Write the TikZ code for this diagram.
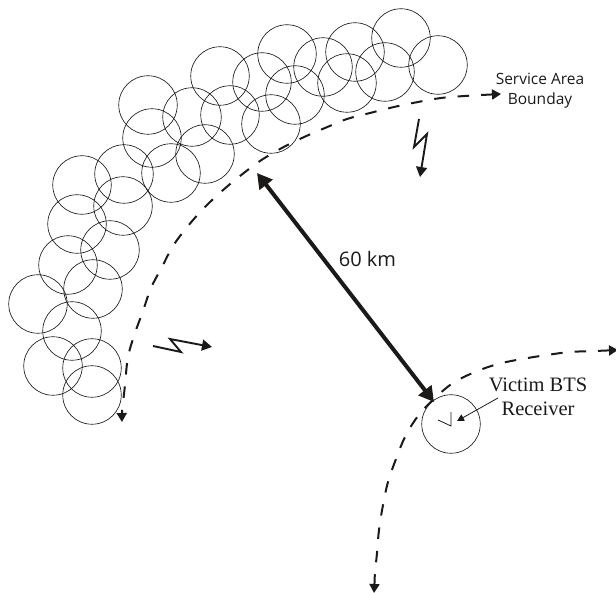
\documentclass[tikz,border=0pt]{standalone}
\usepackage{fontspec}
\setmainfont{Liberation Serif}
\newfontfamily\labelsans{Open Sans}
\usetikzlibrary{arrows.meta}
\definecolor{ink}{HTML}{1C1A18}
\tikzset{
  cell/.style={circle,draw=ink,line width=0.65pt,minimum size=58.5pt,inner sep=0pt},
  boundary/.style={draw=ink,line width=2pt,dash pattern=on 11.5pt off 12pt,{Triangle[length=9pt,width=10pt]}-{Triangle[length=9pt,width=10pt]}},
  bolt/.style={draw=ink,line width=1.9pt,miter limit=10,-{Triangle[length=10pt,width=11pt]}},
  spanline/.style={draw=ink,line width=4pt,{Triangle[length=15pt,width=16pt]}-{Triangle[length=15pt,width=16pt]}},
  pointer/.style={draw=ink,line width=0.8pt,-{Triangle[length=7pt,width=7pt]}},
  antenna/.style={draw=ink,line width=0.8pt},
  sanslabel/.style={font=\labelsans\fontsize{15.5}{20}\selectfont,text=ink,align=center,inner sep=0pt},
  seriflabel/.style={font=\fontsize{20.5}{24}\selectfont,text=ink,align=center,inner sep=0pt}
}
\begin{document}
\begin{tikzpicture}[x=1pt,y=-1pt]
\useasboundingbox (0,0) rectangle (616,593);
\foreach \i/\p in {1/{148,105},2/{220,76},3/{287,54},4/{262,82},5/{192,117},6/{230,115},7/{295,95},8/{271,124},9/{152,138},10/{205,154},11/{171,173},12/{124,174},13/{82,185},14/{123,206},15/{77,224},16/{110,250},17/{68,265},18/{93,289},19/{38,304},20/{72,331},21/{53,366},22/{92,368},23/{92,395},24/{323,67},25/{355,52},26/{401,38},27/{385,72},28/{438,65},29/{347,83}}
  \node[cell] (c\i) at (\p) {};
\node[cell] (victim) at (451,424) {};
\draw[boundary] plot[smooth,tension=0.6] coordinates {(501,94) (465,96) (441,98) (418,102) (394,107) (370,113) (347,119) (325,128) (302,138) (280,149) (260,161) (240,176) (222,191) (204,208) (188,226) (173,246) (162,267) (151,288) (143,311) (135,333) (128,357) (125,385) (123,403) (122,412) (122,422)};
\draw[boundary] plot[smooth,tension=0.6] coordinates {(618,350) (595,351) (570,352) (547,355) (522,359) (498,364) (475,372) (453,383) (435,398) (418,416) (405,437) (396,459) (388,482) (383,505) (379,530) (377,553) (375,573) (374.5,583) (374,593)};
\coordinate (farend) at (257,173);
\coordinate (nearend) at (434,402);
\draw[spanline] (farend) -- (nearend);
\node[sanslabel,font=\labelsans\fontsize{20}{24}\selectfont] (dist) at (367.5,259) {60 km};
\coordinate (b1a) at (419,119); \coordinate (b1b) at (414,147); \coordinate (b1c) at (427,134); \coordinate (b1d) at (420,177);
\draw[bolt] (b1a) -- (b1b) -- (b1c) -- (b1d);
\coordinate (b2a) at (153,346); \coordinate (b2b) at (181,352); \coordinate (b2c) at (170,339); \coordinate (b2d) at (212,347);
\draw[bolt] (b2a) -- (b2b) -- (b2c) -- (b2d);
\node[sanslabel] (area) at (540,91) {Service Area\\Bounday};
\node[seriflabel] (rx) at (538,397) {Victim BTS\\Receiver};
\coordinate (ptr) at (498,398); \coordinate (ptrend) at (457,421);
\draw[pointer] (ptr) -- (ptrend);
\coordinate (a1) at (438,420); \coordinate (a2) at (451,426); \coordinate (a3) at (451,412);
\draw[antenna] (a1) -- (a2) -- (a3);
\end{tikzpicture}
\end{document}
